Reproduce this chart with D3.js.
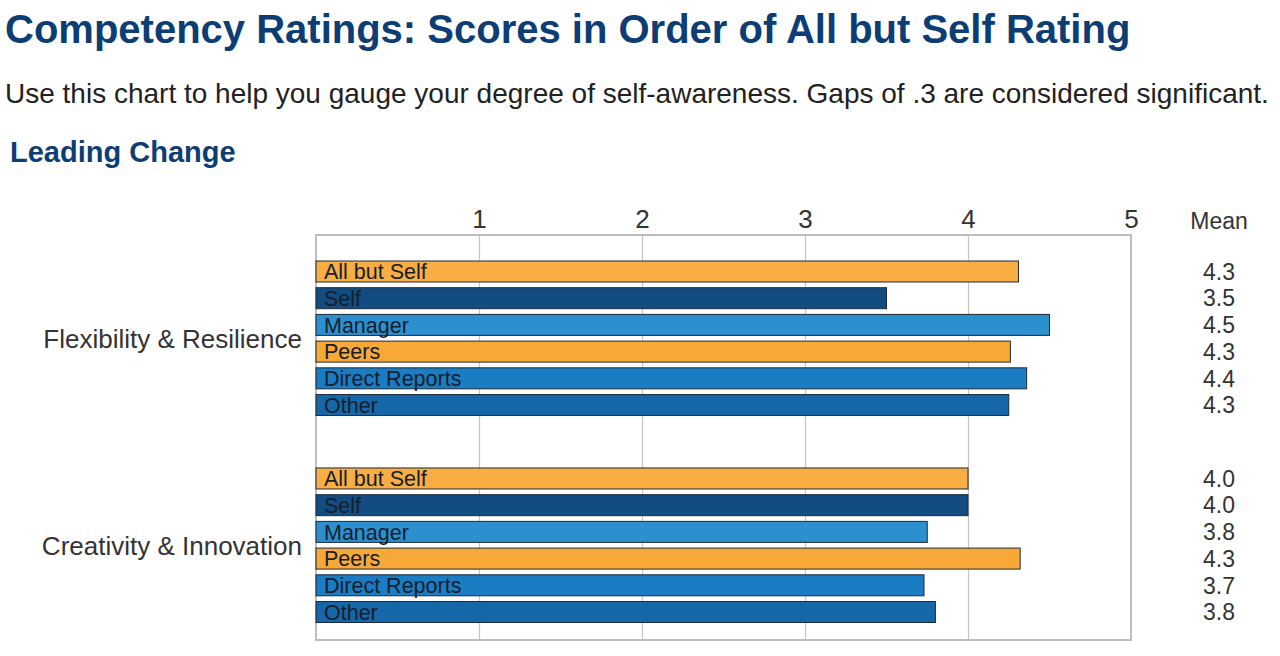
<!DOCTYPE html>
<html>
<head>
<meta charset="utf-8">
<script src="https://cdn.jsdelivr.net/npm/d3@7"></script>
<style>
  body { margin: 0; background: #fff; }
  svg { display: block; font-family: "Liberation Sans", Arial, sans-serif; }
</style>
</head>
<body>
<div id="chart"></div>
<script>
// Chart data
const competencies = ["Flexibility & Resilience", "Creativity & Innovation"];
const raters = ["All but Self", "Self", "Manager", "Peers", "Direct Reports", "Other"];
const scores = [
    [4.31, 3.50, 4.50, 4.26, 4.36, 4.25],
    [4.00, 4.00, 3.75, 4.32, 3.73, 3.80]
];
const meanLabels = [
    ["4.3", "3.5", "4.5", "4.3", "4.4", "4.3"],
    ["4.0", "4.0", "3.8", "4.3", "3.7", "3.8"]
];
const raterColors = ["#f8ae42", "#134c81", "#2c90cf", "#f8a836", "#1a7cc2", "#1667a7"];
const xTicks = [1, 2, 3, 4, 5];

const width = 1280, height = 656;

// Plot box
const box = {left: 316, right: 1131, top: 235, bottom: 640};
const groupStep = 7.75; // rows between the first bars of each group
const barHeight = 21;

const svg = d3.select("#chart")
    .append("svg")
    .attr("width", width)
    .attr("height", height);

// Headings
svg.append("text")
    .attr("x", 5).attr("y", 43)
    .attr("font-size", 40).attr("font-weight", "bold")
    .attr("fill", "#0c3d74")
    .text("Competency Ratings: Scores in Order of All but Self Rating");

svg.append("text")
    .attr("x", 5).attr("y", 103)
    .attr("font-size", 28)
    .attr("fill", "#222")
    .text("Use this chart to help you gauge your degree of self-awareness. Gaps of .3 are considered significant.");

svg.append("text")
    .attr("x", 10).attr("y", 162)
    .attr("font-size", 29).attr("font-weight", "bold")
    .attr("fill", "#0c3d74")
    .text("Leading Change");

// Scales
const x = d3.scaleLinear()
    .domain([0, 5])
    .range([box.left, box.right]);

// row index -> bar centre
const y = d3.scaleLinear()
    .domain([0, groupStep + raters.length - 1])
    .range([271.5, 612]);

// flatten into rows
const rows = [];
competencies.forEach((c, g) => {
    raters.forEach((r, i) => {
        rows.push({group: g, rater: r, idx: i, value: scores[g][i], mean: meanLabels[g][i], row: g * groupStep + i});
    });
});

// Gridlines
svg.append("g")
    .attr("class", "grid")
    .attr("transform", `translate(0,${box.bottom})`)
    .call(d3.axisBottom(x).tickValues(xTicks.slice(0, -1)).tickSize(-(box.bottom - box.top)).tickFormat(""))
    .call(g => g.select(".domain").remove())
    .call(g => g.selectAll("line").attr("stroke", "#c4c4c4").attr("stroke-width", 1.2));

// Box
svg.append("rect")
    .attr("x", box.left).attr("y", box.top)
    .attr("width", box.right - box.left)
    .attr("height", box.bottom - box.top)
    .attr("fill", "none")
    .attr("stroke", "#bdbdbd")
    .attr("stroke-width", 2);

// Top axis labels
svg.append("g")
    .attr("transform", `translate(0,${box.top - 7})`)
    .call(d3.axisTop(x).tickValues(xTicks).tickFormat(d3.format("d")).tickSize(0).tickPadding(0))
    .call(g => g.select(".domain").remove())
    .call(g => g.selectAll("text")
        .attr("font-size", 26)
        .attr("font-family", "Liberation Sans, Arial, sans-serif")
        .attr("fill", "#333"));

// Bars
svg.append("g")
    .selectAll("rect")
    .data(rows)
    .join("rect")
        .attr("x", x(0))
        .attr("y", d => y(d.row) - barHeight / 2)
        .attr("width", d => x(d.value) - x(0))
        .attr("height", barHeight)
        .attr("fill", d => raterColors[d.idx])
        .attr("stroke", "#1d2a38")
        .attr("stroke-width", 1);

// Labels inside bars
svg.append("g")
    .selectAll("text")
    .data(rows)
    .join("text")
        .attr("x", x(0) + 8)
        .attr("y", d => y(d.row))
        .attr("dy", "0.36em")
        .attr("font-size", 21.5)
        .attr("fill", "#15202c")
        .text(d => d.rater);

// Competency labels
svg.append("g")
    .selectAll("text")
    .data(competencies)
    .join("text")
        .attr("x", box.left - 14)
        .attr("y", (d, g) => (y(g * groupStep) + y(g * groupStep + raters.length - 1)) / 2)
        .attr("dy", "0.36em")
        .attr("text-anchor", "end")
        .attr("font-size", 26)
        .attr("fill", "#333")
        .text(d => d);

// Mean column
const meanX = 1219;
svg.append("text")
    .attr("x", meanX).attr("y", 229)
    .attr("text-anchor", "middle")
    .attr("font-size", 23)
    .attr("fill", "#333")
    .text("Mean");

svg.append("g")
    .selectAll("text")
    .data(rows)
    .join("text")
        .attr("x", meanX)
        .attr("y", d => y(d.row))
        .attr("dy", "0.36em")
        .attr("text-anchor", "middle")
        .attr("font-size", 23)
        .attr("fill", "#333")
        .text(d => d.mean);
</script>
</body>
</html>
